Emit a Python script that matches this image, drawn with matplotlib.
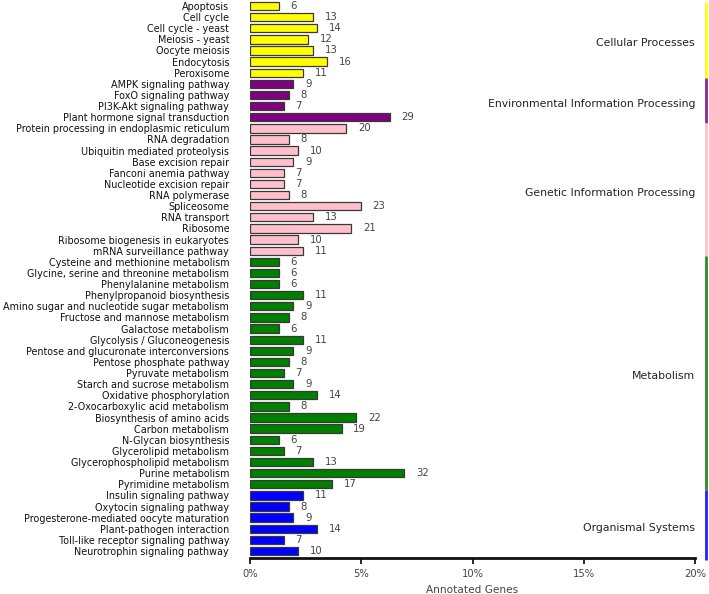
import matplotlib
matplotlib.use('Agg')
import matplotlib.pyplot as plt
import matplotlib.transforms as mtransforms

# KEGG pathways, top to bottom
pathways = [
    'Apoptosis', 'Cell cycle', 'Cell cycle - yeast', 'Meiosis - yeast',
    'Oocyte meiosis', 'Endocytosis', 'Peroxisome',
    'AMPK signaling pathway', 'FoxO signaling pathway',
    'PI3K-Akt signaling pathway', 'Plant hormone signal transduction',
    'Protein processing in endoplasmic reticulum', 'RNA degradation',
    'Ubiquitin mediated proteolysis', 'Base excision repair',
    'Fanconi anemia pathway', 'Nucleotide excision repair', 'RNA polymerase',
    'Spliceosome', 'RNA transport', 'Ribosome',
    'Ribosome biogenesis in eukaryotes', 'mRNA surveillance pathway',
    'Cysteine and methionine metabolism',
    'Glycine, serine and threonine metabolism', 'Phenylalanine metabolism',
    'Phenylpropanoid biosynthesis',
    'Amino sugar and nucleotide sugar metabolism',
    'Fructose and mannose metabolism', 'Galactose metabolism',
    'Glycolysis / Gluconeogenesis', 'Pentose and glucuronate interconversions',
    'Pentose phosphate pathway', 'Pyruvate metabolism',
    'Starch and sucrose metabolism', 'Oxidative phosphorylation',
    '2-Oxocarboxylic acid metabolism', 'Biosynthesis of amino acids',
    'Carbon metabolism', 'N-Glycan biosynthesis', 'Glycerolipid metabolism',
    'Glycerophospholipid metabolism', 'Purine metabolism',
    'Pyrimidine metabolism',
    'Insulin signaling pathway', 'Oxytocin signaling pathway',
    'Progesterone-mediated oocyte maturation', 'Plant-pathogen interaction',
    'Toll-like receptor signaling pathway', 'Neurotrophin signaling pathway',
]
gene_counts = [
    6, 13, 14, 12, 13, 16, 11,
    9, 8, 7, 29,
    20, 8, 10, 9, 7, 7, 8, 23, 13, 21, 10, 11,
    6, 6, 6, 11, 9, 8, 6, 11, 9, 8, 7, 9, 14, 8, 22, 19, 6, 7, 13, 32, 17,
    11, 8, 9, 14, 7, 10,
]
total_genes = 462

groups = ['Cellular Processes', 'Environmental Information Processing',
          'Genetic Information Processing', 'Metabolism', 'Organismal Systems']
group_sizes = [7, 4, 12, 21, 6]
group_colors = ['#ffff00', '#800080', '#ffc0cb', '#008000', '#0000ff']
line_colors = ['#ffff00', '#8b2a8b', '#ffc0cb', '#2e8b2e', '#2020ff']

xticks = [0, 5, 10, 15, 20]
xtick_labels = ['0%', '5%', '10%', '15%', '20%']


def main():
    fig = plt.figure(figsize=(7.09, 5.94), dpi=100)
    ax = fig.add_axes([250 / 709, 1 - 558 / 594, 445 / 709, 558 / 594])

    bar_colors = []
    for c, n in zip(group_colors, group_sizes):
        bar_colors += [c] * n

    pct = [g / total_genes * 100 for g in gene_counts]
    ypos = list(range(len(pathways)))
    ax.barh(ypos, pct, height=0.75, color=bar_colors,
            edgecolor='#383838', linewidth=0.9)

    for y, p, g in zip(ypos, pct, gene_counts):
        ax.annotate(str(g), (p, y), xytext=(8.5, 0), textcoords='offset points',
                    va='center', ha='left', fontsize=7.3, color='#444444')

    ax.set_ylim(len(pathways) - 1 + 0.63, -0.54)
    ax.set_xlim(0, 20)
    ax.set_yticks(ypos)
    ax.set_yticklabels(pathways, fontsize=6.9, color='#111111')
    ax.tick_params(axis='y', length=0, pad=15)
    ax.set_xticks(xticks)
    ax.set_xticklabels(xtick_labels, fontsize=7.2, color='#444444')
    ax.tick_params(axis='x', length=4, width=1.2, pad=4)
    for s in ['left', 'right', 'top']:
        ax.spines[s].set_visible(False)
    ax.spines['bottom'].set_linewidth(2)
    ax.spines['bottom'].set_color('#111111')
    ax.set_xlabel('Annotated Genes', fontsize=7.6, color='#444444', labelpad=4)

    # group labels and coloured side lines
    trans = mtransforms.blended_transform_factory(ax.transAxes, ax.transData)
    start = 0
    for name, n, lc in zip(groups, group_sizes, line_colors):
        top = start - 0.5
        bottom = start + n - 0.5
        if start == 0:
            top = -0.4
        if start + n == len(pathways):
            bottom = len(pathways) - 1 + 0.8
        ax.plot([1.0247, 1.0247], [top, bottom], color=lc, linewidth=2,
                transform=trans, clip_on=False, solid_capstyle='butt')
        ax.text(1.0, (top + bottom) / 2 + 0.3, name, transform=trans,
                ha='right', va='center', fontsize=7.8, color='#222222')
        start += n

    fig.savefig('out.png', dpi=100)


if __name__ == '__main__':
    main()
